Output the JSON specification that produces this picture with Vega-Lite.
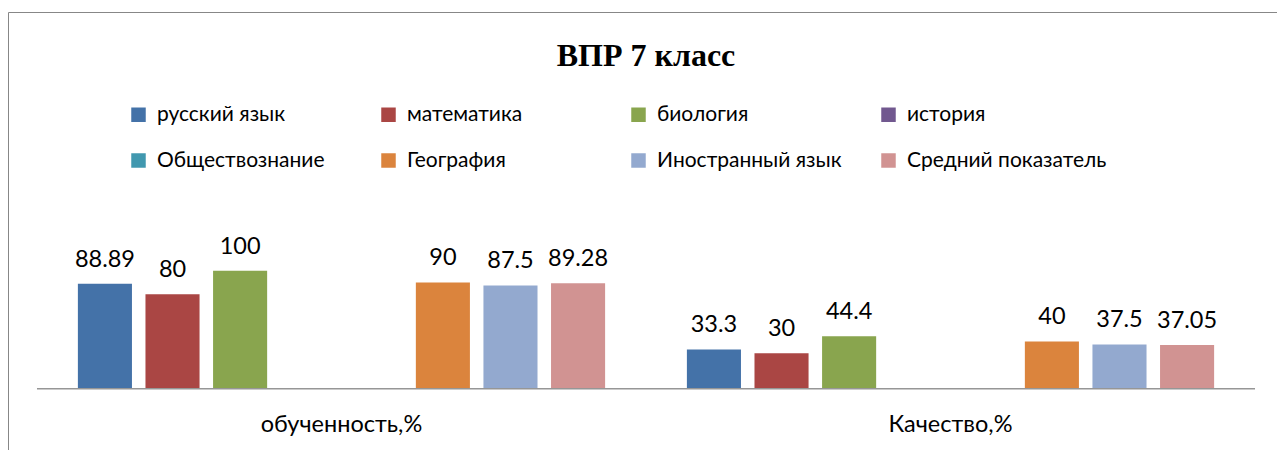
{
  "$schema": "https://vega.github.io/schema/vega-lite/v6.json",
  "autosize": {"type": "none"},
  "padding": {"left": 8, "top": 12, "right": -7, "bottom": -22},
  "width": 1276,
  "height": 460,
  "background": "white",
  "config": {"view": {"stroke": "#878787", "strokeWidth": 1}, "font": "Lato"},
  "title": {"text": "ВПР 7 класс", "font": "Liberation Serif", "fontSize": 32, "fontWeight": "bold", "color": "#000000", "anchor": "middle", "frame": "group", "offset": -52.3, "dy": 34, "baseline": "alphabetic"},
  "data": {"values": [
    {"grp": "обученность,%", "subj": "русский язык", "value": 88.89},
    {"grp": "обученность,%", "subj": "математика", "value": 80},
    {"grp": "обученность,%", "subj": "биология", "value": 100},
    {"grp": "обученность,%", "subj": "География", "value": 90},
    {"grp": "обученность,%", "subj": "Иностранный язык", "value": 87.5},
    {"grp": "обученность,%", "subj": "Средний показатель", "value": 89.28},
    {"grp": "Качество,%", "subj": "русский язык", "value": 33.3},
    {"grp": "Качество,%", "subj": "математика", "value": 30},
    {"grp": "Качество,%", "subj": "биология", "value": 44.4},
    {"grp": "Качество,%", "subj": "География", "value": 40},
    {"grp": "Качество,%", "subj": "Иностранный язык", "value": 37.5},
    {"grp": "Качество,%", "subj": "Средний показатель", "value": 37.05}
  ]},
  "encoding": {
    "x": {"field": "grp", "type": "nominal", "sort": ["обученность,%", "Качество,%"],
      "scale": {"paddingInner": 0, "paddingOuter": 0.0476},
      "axis": {"title": null, "orient": "bottom", "offset": -83.3, "domain": false, "ticks": false, "tickSize": 0, "labelPadding": 43, "labelBaseline": "alphabetic", "labelFontSize": 23.5, "labelColor": "#000000", "labelFont": "Lato", "labelAngle": 0, "labelFontWeight": "normal"}}
  },
  "layer": [
    {
      "mark": {"type": "bar"},
      "encoding": {
        "xOffset": {"field": "subj", "type": "nominal", "scale": {"domain": ["русский язык", "математика", "биология", "история", "Обществознание", "География", "Иностранный язык", "Средний показатель"], "paddingInner": 0.2, "paddingOuter": 0.605}},
        "y": {"field": "value", "type": "quantitative", "scale": {"domain": [-70.6, 319.2], "nice": false, "zero": false}, "axis": null},
        "y2": {"datum": 0},
        "color": {"field": "subj", "type": "nominal",
          "scale": {"domain": ["русский язык", "математика", "биология", "история", "Обществознание", "География", "Иностранный язык", "Средний показатель"],
            "range": ["#4472A8", "#AA4644", "#89A54E", "#71588F", "#4198AF", "#DB843D", "#93A9CF", "#D19392"]},
          "legend": {"orient": "none", "legendX": 120, "legendY": 92, "direction": "horizontal", "columns": 4, "title": null, "symbolType": "square", "symbolSize": 210, "symbolStrokeWidth": 0, "labelFontSize": 21, "labelFont": "Lato", "labelColor": "#000000", "labelOffset": 8, "columnPadding": 21, "rowPadding": 24, "gridAlign": "all", "labelLimit": 400, "padding": 0}}
      }
    },
    {
      "mark": {"type": "text", "dy": -17, "baseline": "alphabetic", "align": "center", "fontSize": 23.5, "color": "#000000"},
      "encoding": {
        "xOffset": {"field": "subj", "type": "nominal"},
        "y": {"field": "value", "type": "quantitative"},
        "text": {"field": "value", "type": "quantitative"}
      }
    },
    {
      "data": {"values": [{"grp": "обученность,%"}, {"grp": "Качество,%"}]},
      "mark": {"type": "bar", "stroke": "#969696", "strokeWidth": 1.5, "fill": "#969696"},
      "encoding": {
        "y": {"datum": 0},
        "y2": {"datum": 0}
      }
    }
  ]
}
